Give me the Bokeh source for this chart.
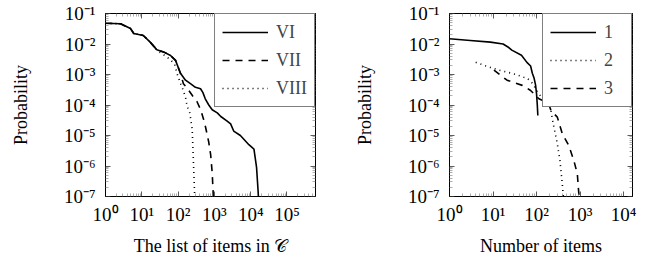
from bokeh.plotting import figure
from bokeh.layouts import row
from bokeh.models import LogAxis, FixedTicker, CustomJSTickFormatter
from bokeh.embed import file_html
from bokeh.resources import INLINE

# ---------------- data: left panel ----------------
vi_x = [1, 2.6, 4.9, 6, 11, 17, 26, 41, 62, 85, 116, 160, 219, 300, 415, 480, 560,
        700, 870, 1200, 1500, 2200, 2800, 3400, 5200, 8900, 12300, 14500, 16000, 16800]
vi_y = [0.048, 0.046, 0.032, 0.022, 0.019, 0.0115, 0.0065, 0.0054, 0.0042, 0.0029,
        0.0011, 6.5e-4, 5.0e-4, 3.8e-4, 3.4e-4, 2.6e-4, 1.6e-4, 1.0e-4, 7e-5, 5.5e-5,
        4.2e-5, 3.0e-5, 2.4e-5, 1.4e-5, 1.0e-5, 5e-6, 3.6e-6, 9e-7, 1.5e-7, 5e-8]
vii_x = [1, 2.6, 4.9, 6, 11, 17, 26, 41, 62, 85, 116, 140, 180, 250, 330, 420, 500,
         570, 700, 790, 870, 920, 940]
vii_y = [0.048, 0.046, 0.032, 0.022, 0.019, 0.0115, 0.0065, 0.0054, 0.0042, 0.0029,
         1.1e-3, 5.0e-4, 3.5e-4, 2.0e-4, 1.3e-4, 7e-5, 3.5e-5, 1.9e-5, 6e-6, 2.3e-6,
         6e-7, 1.5e-7, 5e-8]
viii_x = [1, 2.6, 4.9, 6, 11, 17, 26, 50, 62, 80, 94, 117, 129, 160, 178, 210, 245,
          258, 270, 285, 290]
viii_y = [0.048, 0.046, 0.032, 0.022, 0.019, 0.0115, 0.0063, 0.0037, 0.0030, 0.0022,
          1.05e-3, 5e-4, 3.8e-4, 1.8e-4, 9e-5, 5.5e-5, 1.6e-5, 3e-6, 7e-7, 1.2e-7, 5e-8]

# ---------------- data: right panel ----------------
s1_x = [1, 3, 8.7, 17, 22, 27, 45, 60, 73, 80, 88, 95, 100, 104, 107]
s1_y = [0.0148, 0.013, 0.0115, 0.0100, 0.0080, 0.0063, 0.0043, 0.0025, 0.0019,
        0.0011, 7.5e-4, 4.5e-4, 2.3e-4, 1.0e-4, 4.5e-5]
s2_x = [4, 8.7, 15, 21, 30, 51, 61, 80, 113, 148, 180, 210, 230, 250, 300, 345, 390, 410, 420]
s2_y = [2.5e-3, 1.7e-3, 1.35e-3, 1.2e-3, 1.05e-3, 8.1e-4, 7.6e-4, 5.2e-4, 2.3e-4,
        1.5e-4, 1.1e-4, 8e-5, 3.5e-5, 1.9e-5, 5.4e-6, 1.5e-6, 2.6e-7, 1.1e-7, 5e-8]
s3_x = [10.5, 21, 47, 56, 73, 104, 113, 177, 192, 205, 215, 300, 390, 550, 720, 865, 910, 950, 970]
s3_y = [1.4e-3, 6.5e-4, 4.4e-4, 3.8e-4, 3.0e-4, 1.8e-4, 1.6e-4, 1.2e-4, 1.05e-4,
        8e-5, 6.5e-5, 4e-5, 1.15e-5, 4.7e-6, 1.5e-6, 5.5e-7, 2e-7, 1e-7, 5e-8]

left_labels = ["VI", "VII", "VIII"]
right_labels = ["1", "2", "3"]
left_xlabel = "The list of items in 𝒞"
right_xlabel = "Number of items"
ylabel = "Probability"

x_dec_left = list(range(0, 6))
x_dec_right = list(range(0, 5))
y_dec = list(range(-7, 0))

FONT = "Liberation Serif"
FS = "18px"
TFS = "19px"
DASHED = "7 6"
DOTTED = "1 4"

sup_fmt = CustomJSTickFormatter(code="""
const sup = {'-':'\u207b','0':'\u2070','1':'\u00b9','2':'\u00b2','3':'\u00b3','4':'\u2074',
             '5':'\u2075','6':'\u2076','7':'\u2077','8':'\u2078','9':'\u2079'};
const e = Math.round(Math.log10(tick));
return '10' + String(e).split('').map(c => sup[c]).join('');
""")


def ticker(decs):
    majors = [10.0 ** d for d in decs]
    minors = [k * 10.0 ** d for d in range(decs[0] - 1, decs[-1] + 1) for k in range(2, 10)]
    return FixedTicker(ticks=majors, minor_ticks=minors)


def style_axis(ax, show_labels):
    ax.major_tick_in = 5
    ax.major_tick_out = 0
    ax.minor_tick_in = 3
    ax.minor_tick_out = 0
    ax.major_tick_line_color = "#333333"
    ax.minor_tick_line_color = "#777777"
    ax.major_tick_line_width = 0.8
    ax.minor_tick_line_width = 0.6
    ax.axis_line_color = "black"
    ax.axis_line_width = 1
    ax.major_label_text_font = FONT
    ax.axis_label_text_font = FONT
    ax.axis_label_text_font_style = "normal"
    ax.axis_label_text_font_size = FS
    ax.axis_label_text_color = "black"
    if show_labels:
        ax.major_label_text_font_size = TFS
        ax.major_label_text_color = "black"
    else:
        ax.major_label_text_font_size = "1px"
        ax.major_label_text_color = None
        ax.major_label_standoff = 0


def make_panel(xmax, xdecs, series, labels, dashes, xlabel, fw, bl, br):
    p = figure(x_axis_type="log", y_axis_type="log",
               x_range=(1, xmax), y_range=(1e-7, 1e-1),
               frame_width=fw, frame_height=183,
               min_border_left=bl, min_border_right=br,
               min_border_top=13, min_border_bottom=55,
               output_backend="svg", toolbar_location=None)
    p.xgrid.visible = False
    p.ygrid.visible = False
    p.outline_line_color = "black"
    p.background_fill_color = "white"
    p.border_fill_color = "white"

    p.xaxis.ticker = ticker(xdecs)
    p.yaxis.ticker = ticker(y_dec)
    p.xaxis.formatter = sup_fmt
    p.yaxis.formatter = sup_fmt
    for ax in p.xaxis:
        style_axis(ax, True)
        ax.axis_label = xlabel
        ax.major_label_standoff = 7
        ax.axis_label_standoff = 8
    for ax in p.yaxis:
        style_axis(ax, True)
        ax.axis_label = ylabel
        ax.major_label_standoff = 10
        ax.axis_label_standoff = 30

    top = LogAxis(ticker=ticker(xdecs), formatter=sup_fmt)
    style_axis(top, False)
    p.add_layout(top, "above")
    right = LogAxis(ticker=ticker(y_dec), formatter=sup_fmt)
    style_axis(right, False)
    p.add_layout(right, "right")

    for (xs, ys), lab, d in zip(series, labels, dashes):
        p.line(xs, ys, line_color="black", line_width=1.6, line_dash=d, legend_label=lab)

    lg = p.legend[0]
    lg.location = "top_right"
    lg.margin = 0
    lg.border_line_color = "black"
    lg.border_line_width = 1
    lg.background_fill_alpha = 1
    lg.label_text_font = FONT
    lg.label_text_font_size = FS
    lg.glyph_width = 46
    lg.glyph_height = 22
    lg.label_height = 22
    lg.label_standoff = 8
    lg.spacing = 6
    lg.padding = 7
    return p


p1 = make_panel(6.1e5, x_dec_left,
                [(vi_x, vi_y), (vii_x, vii_y), (viii_x, viii_y)],
                left_labels, ["solid", DASHED, DOTTED], left_xlabel, 210, 105, 15)
p2 = make_panel(1.6e4, x_dec_right,
                [(s1_x, s1_y), (s2_x, s2_y), (s3_x, s3_y)],
                right_labels, ["solid", DOTTED, DASHED], right_xlabel, 183, 119, 14)

layout = row(p1, p2)
open("out.html", "w").write(file_html(layout, INLINE))
